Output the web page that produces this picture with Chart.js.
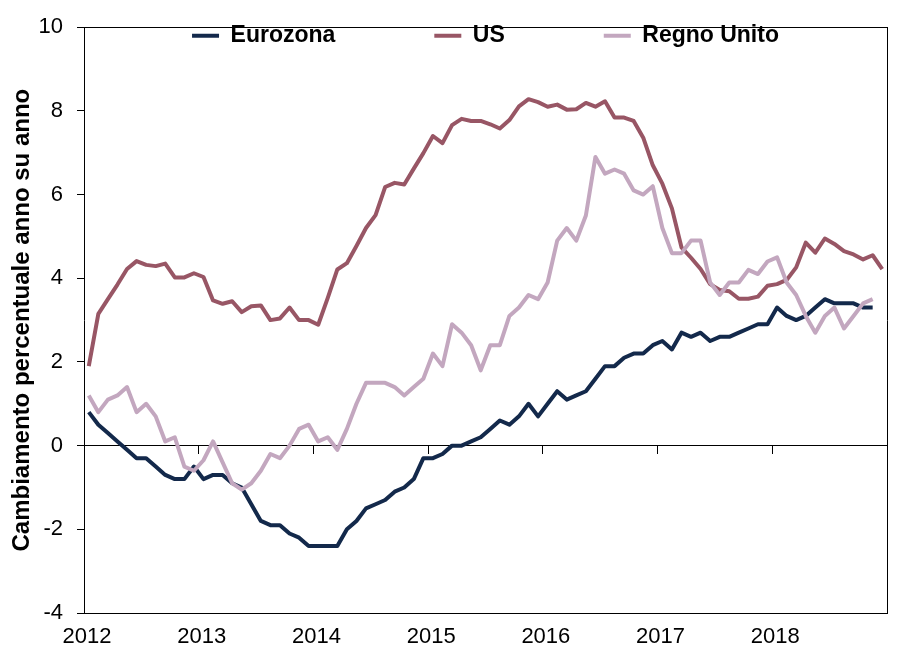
<!DOCTYPE html>
<html>
<head>
<meta charset="utf-8">
<script src="https://cdn.jsdelivr.net/npm/chart.js@4/dist/chart.umd.min.js"></script>
<style>
  html, body { margin: 0; padding: 0; background: #fff; }
  #wrap { width: 910px; height: 661px; }
</style>
</head>
<body>
<div id="wrap"><canvas id="chart" width="910" height="661"></canvas></div>
<script>
// monthly values, Jan 2012 onwards
const years = ["2012", "2013", "2014", "2015", "2016", "2017", "2018"];

const eurozona = [
  0.8, 0.5, 0.3, 0.1, -0.1, -0.3, -0.3, -0.5, -0.7, -0.8, -0.8, -0.5,
  -0.8, -0.7, -0.7, -0.9, -1.0, -1.4, -1.8, -1.9, -1.9, -2.1, -2.2, -2.4,
  -2.4, -2.4, -2.4, -2.0, -1.8, -1.5, -1.4, -1.3, -1.1, -1.0, -0.8, -0.3,
  -0.3, -0.2, 0.0, 0.0, 0.1, 0.2, 0.4, 0.6, 0.5, 0.7, 1.0, 0.7,
  1.0, 1.3, 1.1, 1.2, 1.3, 1.6, 1.9, 1.9, 2.1, 2.2, 2.2, 2.4,
  2.5, 2.3, 2.7, 2.6, 2.7, 2.5, 2.6, 2.6, 2.7, 2.8, 2.9, 2.9,
  3.3, 3.1, 3.0, 3.1, 3.3, 3.5, 3.4, 3.4, 3.4, 3.3, 3.3
];

const us = [
  1.9, 3.15, 3.5, 3.85, 4.22, 4.41, 4.32, 4.29, 4.35, 4.02, 4.02, 4.12,
  4.03, 3.47, 3.39, 3.45, 3.19, 3.33, 3.35, 3.0, 3.04, 3.3, 3.0, 3.0,
  2.89, 3.53, 4.21, 4.36, 4.77, 5.2, 5.51, 6.18, 6.28, 6.24, 6.62, 6.99,
  7.4, 7.23, 7.66, 7.81, 7.76, 7.76, 7.68, 7.58, 7.78, 8.11, 8.28, 8.21,
  8.1, 8.15, 8.03, 8.04, 8.19, 8.1, 8.23, 7.84, 7.84, 7.76, 7.36, 6.7,
  6.26, 5.67, 4.74, 4.49, 4.22, 3.86, 3.72, 3.69, 3.51, 3.51, 3.56, 3.82,
  3.86, 3.96, 4.26, 4.85, 4.61, 4.95, 4.82, 4.65, 4.57, 4.45, 4.55, 4.22
];

const regnoUnito = [
  1.2, 0.8, 1.1, 1.2, 1.4, 0.8, 1.0, 0.7, 0.1, 0.2, -0.5, -0.6,
  -0.35, 0.1, -0.4, -0.9, -1.05, -0.9, -0.6, -0.2, -0.3, 0.0, 0.4, 0.5,
  0.1, 0.2, -0.1, 0.4, 1.0, 1.5, 1.5, 1.5, 1.4, 1.2, 1.4, 1.6,
  2.2, 1.9, 2.9, 2.7, 2.4, 1.8, 2.4, 2.4, 3.1, 3.3, 3.6, 3.5,
  3.9, 4.9, 5.2, 4.9, 5.5, 6.9, 6.5, 6.6, 6.5, 6.1, 6.0, 6.2,
  5.2, 4.6, 4.6, 4.9, 4.9, 3.9, 3.6, 3.9, 3.9, 4.2, 4.1, 4.4,
  4.5, 3.9, 3.6, 3.1, 2.7, 3.1, 3.3, 2.8, 3.1, 3.4, 3.5
];

const nMonths = years.length * 12;
const legendPad = 99;

// each value sits in the middle of its month
function toPoints(arr){
    return arr.map((v, i) => ({x: i + 0.5, y: v}));
}

function line(label, arr, color, order){
    return {
        label: label,
        data: toPoints(arr),
        borderColor: color,
        backgroundColor: color,
        borderWidth: 4,
        pointRadius: 0,
        tension: 0,
        borderJoinStyle: "round",
        order: order
    };
}

const black = "#000";

const ctx = document.getElementById("chart");

const chart = new Chart(ctx, {
    type: "line",
    data: {
        datasets: [
            line("Eurozona", eurozona, "#13294b", 3),
            line("US", us, "#985665", 2),
            line("Regno Unito", regnoUnito, "#c3a7bf", 1)
        ]
    },
    options: {
        responsive: false,
        animation: false,
        layout: { padding: { top: 19, right: 23, bottom: 0, left: 0 } },
        plugins: {
            tooltip: { enabled: false },
            legend: {
                position: "top",
                fullSize: false,
                align: "center",
                maxHeight: 1,
                labels: {
                    usePointStyle: true,
                    pointStyle: "line",
                    pointStyleWidth: 27,
                    boxHeight: 4,
                    padding: legendPad,
                    color: black,
                    font: { family: "'Liberation Sans', Arial, sans-serif", size: 23, weight: "bold" },
                    sort: (a, b) => a.datasetIndex - b.datasetIndex
                }
            }
        },
        scales: {
            x: {
                type: "linear",
                position: "bottom",
                min: 0,
                max: nMonths,
                afterFit: s => { s.height = 48; },
                grid: { display: false, drawTicks: false },
                border: { display: true, color: black, width: 1 },
                ticks: {
                    stepSize: 12,
                    autoSkip: false,
                    maxRotation: 0,
                    padding: 11,
                    labelOffset: 3,
                    color: black,
                    font: { family: "'Liberation Sans', Arial, sans-serif", size: 22 },
                    callback: v => years[v / 12] || ""
                }
            },
            xZero: {
                type: "linear",
                position: { y: 0 },
                min: 0,
                max: nMonths,
                grid: { display: true, drawOnChartArea: false, drawTicks: true, tickLength: 8, color: black },
                border: { display: true, color: black, width: 1 },
                ticks: { display: false, stepSize: 12 }
            },
            xTop: {
                type: "linear",
                position: "top",
                min: 0,
                max: nMonths,
                afterFit: s => { s.height = 0; },
                grid: { display: false, drawTicks: false },
                border: { display: true, color: black, width: 1 },
                ticks: { display: false }
            },
            y: {
                position: "left",
                min: -4,
                max: 10,
                afterFit: s => { s.width = 84; },
                grid: { display: true, drawOnChartArea: false, drawTicks: true, tickLength: 7, color: black },
                border: { display: true, color: black, width: 1 },
                ticks: {
                    stepSize: 2,
                    padding: 14,
                    color: black,
                    font: { family: "'Liberation Sans', Arial, sans-serif", size: 22 }
                },
                title: {
                    display: true,
                    text: "Cambiamento percentuale anno su anno",
                    color: black,
                    padding: { top: 8, bottom: 0 },
                    font: { family: "'Liberation Sans', Arial, sans-serif", size: 24, weight: "bold" }
                }
            },
            yRight: {
                position: "right",
                min: -4,
                max: 10,
                afterFit: s => { s.width = 0; },
                grid: { display: false, drawTicks: false },
                border: { display: true, color: black, width: 1 },
                ticks: { display: false }
            }
        }
    },
    plugins: [{
        id: "legendInside",
        // legend padding spaces the items apart; move the single row inside the top of the plot
        // (the legend clips to its own box, so give it room to draw)
        afterLayout(c){
            if (c.legend) {
                c.legend.top = c.chartArea.top - 3 - legendPad;
                c.legend.bottom = c.chartArea.top + 40;
                c.legend.height = c.legend.bottom - c.legend.top;
            }
        }
    }]
});
</script>
</body>
</html>
